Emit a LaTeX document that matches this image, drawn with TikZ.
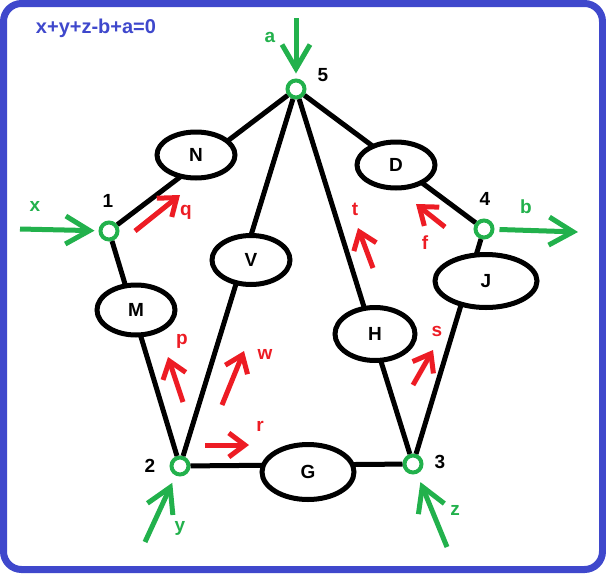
\documentclass[tikz,border=0pt]{standalone}
\usepackage{fontspec}
\setmainfont{Liberation Sans}
\usetikzlibrary{arrows.meta,shapes.geometric}
\definecolor{paintblue}{RGB}{63,72,204}
\definecolor{paintgreen}{RGB}{34,177,76}
\definecolor{paintred}{RGB}{237,28,36}

\begin{document}
\begin{tikzpicture}[x=1pt,y=-1pt]
        \tikzstyle{junc} = [circle, draw=paintgreen, line width=4pt, minimum size=17pt, inner sep=0pt, fill=white]
        \tikzstyle{elem} = [ellipse, draw, line width=5pt, fill=white, inner sep=0pt, minimum width=78pt, minimum height=46pt, font=\fontsize{19}{21}\selectfont\bfseries]
        \tikzstyle{wire} = [line width=5pt]
        \tikzstyle{inflow} = [line width=5pt, paintgreen, -{Straight Barb[length=24pt,width=28pt]}]
        \tikzstyle{current} = [line width=5pt, paintred, -{Straight Barb[length=16pt,width=24pt]}]
        \tikzstyle{num} = [font=\fontsize{19}{21}\selectfont\bfseries]
        \tikzstyle{glab} = [num, text=paintgreen]
        \tikzstyle{rlab} = [num, text=paintred]

        \useasboundingbox (0,0) rectangle (606,574);
        \draw[paintblue, line width=7pt, rounded corners=18pt] (3.5,3.5) rectangle (602.5,569.5);
        \node[text=paintblue, font=\fontsize{20}{22}\selectfont\bfseries](eq) at (96,28){x+y+z-b+a=0};

        % junctions
        \node[junc](n1) at (109,231){};
        \node[junc](n2) at (180,466){};
        \node[junc](n3) at (413,464){};
        \node[junc](n4) at (484,229){};
        \node[junc](n5) at (296,89){};
        \node[num](l1) at (108,201){1};
        \node[num](l2) at (150,466){2};
        \node[num](l3) at (440,462){3};
        \node[num](l4) at (485,199){4};
        \node[num](l5) at (323,75){5};

        % branches
        \draw[wire](n1) -- (n5);
        \draw[wire](n5) -- (n4);
        \draw[wire](n4) -- (n3);
        \draw[wire](n3) -- (n2);
        \draw[wire](n2) -- (n1);
        \draw[wire](n5) -- (n2);
        \draw[wire](n5) -- (n3);

        % elements
        \node[elem](N) at (196,155){N};
        \node[elem](D) at (396,165){D};
        \node[elem, minimum height=49pt](V) at (251,260){V};
        \node[elem, minimum height=50pt](M) at (136,310){M};
        \node[elem, minimum width=80pt, minimum height=53pt](H) at (375,334){H};
        \node[elem, minimum width=102pt, minimum height=53pt](J) at (486,281){J};
        \node[elem, minimum width=92pt, minimum height=55pt](G) at (308,472){G};

        % external flows
        \coordinate (xin) at (20,229);
        \coordinate (ain) at (296,18);
        \coordinate (bout) at (578,232);
        \coordinate (yin) at (145,542);
        \coordinate (zin) at (447,547);
        \draw[inflow, shorten >=4pt](xin) -- (n1);
        \draw[inflow, shorten >=5pt](ain) -- (n5);
        \draw[inflow, shorten <=5pt](n4) -- (bout);
        \draw[inflow, shorten >=8pt](yin) -- (n2);
        \draw[inflow, shorten >=9pt](zin) -- (n3);
        \node[glab](lx) at (35,206){x};
        \node[glab](la) at (270,37){a};
        \node[glab](lb) at (526,207){b};
        \node[glab](ly) at (180,528){y};
        \node[glab](lz) at (455,510){z};

        % branch currents
        \coordinate (q0) at (135,231);
        \coordinate (q1) at (180,195);
        \coordinate (p0) at (183,402);
        \coordinate (p1) at (168,357);
        \coordinate (w0) at (222,405);
        \coordinate (w1) at (244,351);
        \coordinate (r0) at (205,445);
        \coordinate (r1) at (249,445);
        \coordinate (t0) at (373,268);
        \coordinate (t1) at (358,228);
        \coordinate (f0) at (445,227);
        \coordinate (f1) at (416,204);
        \coordinate (s0) at (413,385);
        \coordinate (s1) at (433,350);
        \draw[current](q0) -- (q1);
        \draw[current](p0) -- (p1);
        \draw[current](w0) -- (w1);
        \draw[current](r0) -- (r1);
        \draw[current](t0) -- (t1);
        \draw[current](f0) -- (f1);
        \draw[current](s0) -- (s1);
        \node[rlab](lq) at (186,212){q};
        \node[rlab](lp) at (182,341){p};
        \node[rlab](lw) at (265,354){w};
        \node[rlab](lr) at (260,426){r};
        \node[rlab](lt) at (355,209){t};
        \node[rlab](lf) at (425,243){f};
        \node[rlab](ls) at (437,331){s};

    \end{tikzpicture}
\end{document}
